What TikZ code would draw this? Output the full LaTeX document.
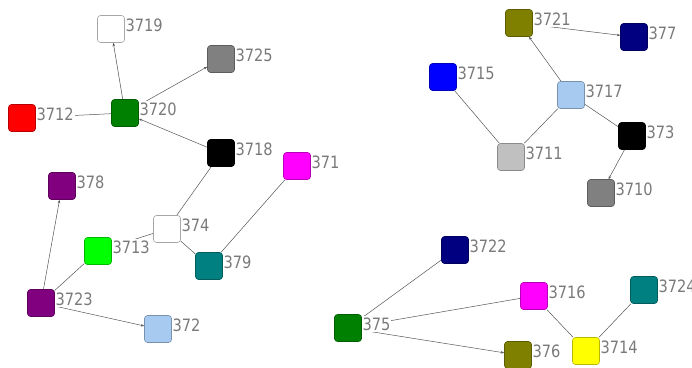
\documentclass[tikz,border=0pt]{standalone}
\usepackage{fontspec}
\setmainfont[FakeStretch=0.86]{DejaVu Sans}
\usetikzlibrary{arrows.meta}
\pgfdeclarelayer{bg}
\pgfsetlayers{bg,main}
\definecolor{cgreen}{HTML}{008000}
\definecolor{cred}{HTML}{FF0000}
\definecolor{cgray}{HTML}{808080}
\definecolor{cmag}{HTML}{FF00FF}
\definecolor{cpurple}{HTML}{800080}
\definecolor{clime}{HTML}{00FF00}
\definecolor{cteal}{HTML}{008080}
\definecolor{clblue}{HTML}{A6CAF0}
\definecolor{colive}{HTML}{808000}
\definecolor{cnavy}{HTML}{000080}
\definecolor{cblue}{HTML}{0000FF}
\definecolor{csilver}{HTML}{C0C0C0}
\definecolor{cyel}{HTML}{FFFF00}
\definecolor{lblgray}{HTML}{7A7A7A}
\definecolor{edgegray}{HTML}{555555}
\tikzset{
  sq/.style={rectangle, rounded corners=3pt, minimum size=27pt, inner sep=0pt,
    fill=#1, draw=#1!72!black, line width=0.6pt},
  sqw/.style={rectangle, rounded corners=3pt, minimum size=27pt, inner sep=0pt,
    fill=white, draw=black!35, line width=0.6pt},
  lbl/.style={font=\fontsize{17}{17}\selectfont, text=lblgray, fill=white,
    inner xsep=1pt, inner ysep=1.5pt, anchor=base west},
  edge/.style={draw=edgegray, line width=0.5pt},
  arr/.style={edge, -{Stealth[length=3.5pt,width=2.6pt]}}
}
\newcommand{\lab}[1]{\node[lbl] (l#1) at ([xshift=-0.5pt,yshift=-2pt]n#1.east) {#1};}
\begin{document}
\begin{tikzpicture}[x=1pt,y=-1pt]
\useasboundingbox (0,0) rectangle (692,367);
\clip (0,0) rectangle (692,367);
% nodes
\node[sqw] (n3719) at (111,29) {};
\node[sq=cgray] (n3725) at (221,59) {};
\node[sq=cgreen] (n3720) at (125,113) {};
\node[sq=cred] (n3712) at (22,118) {};
\node[sq=black] (n3718) at (221,153) {};
\node[sq=cmag] (n371) at (297,166) {};
\node[sq=cpurple] (n378) at (62,186) {};
\node[sqw] (n374) at (167,229) {};
\node[sq=clime] (n3713) at (98,251) {};
\node[sq=cteal] (n379) at (209,266) {};
\node[sq=cpurple] (n3723) at (41,303) {};
\node[sq=clblue] (n372) at (158,329) {};
\node[sq=colive] (n3721) at (519,23) {};
\node[sq=cnavy] (n377) at (634,37) {};
\node[sq=cblue] (n3715) at (443,77) {};
\node[sq=clblue] (n3717) at (571,95) {};
\node[sq=black] (n373) at (632,136) {};
\node[sq=csilver] (n3711) at (511,157) {};
\node[sq=cgray] (n3710) at (601,193) {};
\node[sq=cnavy] (n3722) at (455,250) {};
\node[sq=cmag] (n3716) at (534,296) {};
\node[sq=cteal] (n3724) at (644,290) {};
\node[sq=cgreen] (n375) at (348,328) {};
\node[sq=colive] (n376) at (518,355) {};
\node[sq=cyel] (n3714) at (586,351) {};
% edges
\begin{pgfonlayer}{bg}
\draw[arr] (n3720) -- (n3719);
\draw[arr] (n3720) -- (n3725);
\draw[edge] (n3712) -- (n3720);
\draw[arr] (n3718) -- (n3720);
\draw[edge] (n3718) -- (n374);
\draw[edge] (n3713) -- (n374);
\draw[edge] (n374) -- (n379);
\draw[edge] (n371) -- (n379);
\draw[arr] (n3723) -- (n378);
\draw[edge] (n3723) -- (n3713);
\draw[arr] (n3723) -- (n372);
\draw[arr] (n3721) -- (n377);
\draw[arr] (n3717) -- (n3721);
\draw[edge] (n3717) -- (n3711);
\draw[edge] (n3715) -- (n3711);
\draw[edge] (n3717) -- (n373);
\draw[arr] (n373) -- (n3710);
\draw[edge] (n375) -- (n3722);
\draw[edge] (n375) -- (n3716);
\draw[arr] (n375) -- (n376);
\draw[edge] (n3716) -- (n3714);
\draw[edge] (n3724) -- (n3714);
\end{pgfonlayer}
% labels
\lab{3719}\lab{3725}\lab{3720}\lab{3712}\lab{3718}\lab{371}
\lab{378}\lab{374}\lab{3713}\lab{379}\lab{3723}\lab{372}
\lab{3721}\lab{377}\lab{3715}\lab{3717}\lab{373}\lab{3711}
\lab{3710}\lab{3722}\lab{3716}\lab{3724}\lab{375}\lab{376}\lab{3714}
\end{tikzpicture}
\end{document}
